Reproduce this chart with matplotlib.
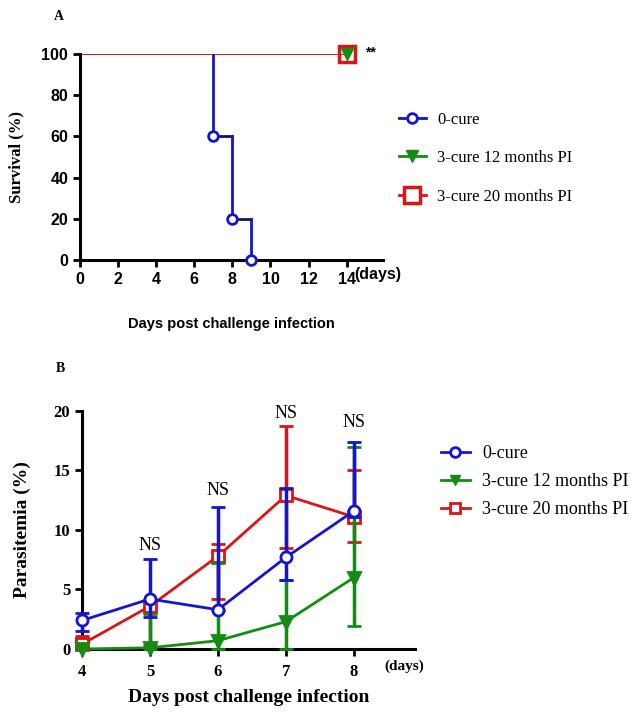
import matplotlib
matplotlib.use("Agg")
import matplotlib.pyplot as plt
from matplotlib.lines import Line2D

# ---- panel A: survival ----
surv_days = [0, 7, 8, 9]
surv_cure0 = [100, 60, 20, 0]
surv_end_day = 14
surv_cured = 100

# ---- panel B: parasitemia ----
days = [4, 5, 6, 7, 8]
cure0 = [2.4, 4.2, 3.3, 7.7, 11.6]
cure0_lo = [0.9, 1.5, 0.0, 1.9, 0.5]
cure0_hi = [0.6, 3.4, 8.6, 5.8, 5.8]
cure12 = [0.0, 0.1, 0.7, 2.3, 6.0]
cure12_lo = [0.0, 0.1, 0.7, 2.3, 4.1]
cure12_hi = [0.0, 2.8, 6.5, 3.5, 11.0]
cure20 = [0.4, 3.6, 7.8, 12.9, 11.1]
cure20_lo = [0.4, 3.3, 3.6, 4.4, 2.1]
cure20_hi = [0.7, 0.5, 1.0, 5.8, 3.9]
ns_x = [5, 6, 7, 8]
ns_y = [8.7, 13.3, 19.8, 19.0]

labels = ["0-cure", "3-cure 12 months PI", "3-cure 20 months PI"]
BLUE = "#1414d2"
NAVY = "#14145a"
GREEN = "#148c14"
RED = "#dc1414"
DARKRED = "#b41414"

SANS = "Liberation Sans"
SERIF = "Liberation Serif"

fig = plt.figure(figsize=(6.43, 7.15), dpi=100)

# ================= A =================
axA = fig.add_axes([0.1244, 0.6364, 0.471, 0.2881])
axA.plot([0, surv_end_day], [surv_cured, surv_cured], color=DARKRED, lw=1.3, zorder=2)
# Kaplan-Meier steps: verticals blue, horizontals dark
for i in range(1, len(surv_days)):
    axA.plot([surv_days[i], surv_days[i]], [surv_cure0[i - 1], surv_cure0[i]],
             color=BLUE, lw=2, zorder=3)
    if i < len(surv_days) - 1:
        axA.plot([surv_days[i], surv_days[i + 1]], [surv_cure0[i], surv_cure0[i]],
                 color=NAVY, lw=2, zorder=3)
axA.plot(surv_days[1:], surv_cure0[1:], ls="none", marker="o", ms=7, mfc="white",
         mec=BLUE, mew=2, zorder=4, clip_on=False)
axA.plot([surv_end_day], [surv_cured], marker="s", ms=12, mfc="none", mec=RED,
         mew=2.5, ls="none", zorder=4, clip_on=False)
axA.plot([surv_end_day], [surv_cured], marker="v", ms=8, color=GREEN, ls="none",
         zorder=5, clip_on=False)
axA.text(14.95, 100.5, "**", fontsize=10, fontweight="bold", family=SANS,
         va="center", ha="left")

axA.set_xlim(0, 15.9)
axA.set_ylim(0, 100)
axA.set_xticks(range(0, 15, 2))
axA.set_yticks(range(0, 101, 20))
for s in ["top", "right"]:
    axA.spines[s].set_visible(False)
for s in ["left", "bottom"]:
    axA.spines[s].set_linewidth(2.2)
axA.tick_params(width=2, length=5, labelsize=11.5)
for t in axA.get_xticklabels() + axA.get_yticklabels():
    t.set_fontfamily(SANS)
    t.set_fontweight("bold")
axA.text(14.4, -0.033, "(days)", transform=axA.get_xaxis_transform(),
         fontsize=11.5, fontweight="bold", family=SANS, va="top", ha="left")
axA.set_ylabel("Survival (%)", fontsize=12, fontweight="bold", family=SERIF, labelpad=12)
axA.set_xlabel("Days post challenge infection", fontsize=10.5, fontweight="bold",
               family=SANS, labelpad=22)

hA = [Line2D([], [], color=BLUE, marker="o", ms=7, mfc="white", mec=BLUE, mew=2, lw=2),
      Line2D([], [], color=GREEN, marker="v", ms=8, lw=2),
      Line2D([], [], color=RED, marker="s", ms=11, mfc="white", mec=RED, mew=2.5, lw=2)]
fig.legend(hA, labels, loc="upper left", bbox_to_anchor=(0.597, 0.865), frameon=False,
           prop={"family": SERIF, "size": 12}, handlelength=1.6, labelspacing=1.35,
           handletextpad=0.7)
fig.text(0.083, 0.986, "A", fontsize=10, fontweight="bold", family=SERIF, va="top")

# ================= B =================
axB = fig.add_axes([0.1275, 0.0923, 0.518, 0.3329])
series = [(cure20, cure20_lo, cure20_hi, RED, "s"),
          (cure12, cure12_lo, cure12_hi, GREEN, "v"),
          (cure0, cure0_lo, cure0_hi, BLUE, "o")]
for k, (y, lo, hi, c, m) in enumerate(series):
    axB.errorbar(days, y, yerr=[lo, hi], color=c, lw=2, marker=m, ms=8,
                 mfc="white" if m != "v" else c, mec=c, mew=2, elinewidth=2.5,
                 capsize=5, capthick=2.5, zorder=3 + k, clip_on=False)
for x, y in zip(ns_x, ns_y):
    axB.text(x, y, "NS", fontsize=13, family=SERIF, ha="center", va="center")

axB.set_xlim(4, 8.9)
axB.set_ylim(0, 20)
axB.set_xticks(days)
axB.set_yticks(range(0, 21, 5))
for s in ["top", "right"]:
    axB.spines[s].set_visible(False)
for s in ["left", "bottom"]:
    axB.spines[s].set_linewidth(2.2)
axB.tick_params(width=2, length=5, labelsize=12)
axB.tick_params(axis="x", pad=6)
for t in axB.get_xticklabels() + axB.get_yticklabels():
    t.set_fontfamily(SERIF)
    t.set_fontweight("bold")
axB.text(8.45, -0.045, "(days)", transform=axB.get_xaxis_transform(),
         fontsize=11, fontweight="bold", family=SERIF, va="top", ha="left")
axB.set_ylabel("Parasitemia (%)", fontsize=14, fontweight="bold", family=SERIF, labelpad=16)
axB.set_xlabel("Days post challenge infection", fontsize=14, fontweight="bold",
               family=SERIF, labelpad=6)

hB = [Line2D([], [], color=BLUE, marker="o", ms=7, mfc="white", mec=BLUE, mew=2, lw=2),
      Line2D([], [], color=GREEN, marker="v", ms=7, lw=2),
      Line2D([], [], color=RED, marker="s", ms=7, mfc="white", mec=RED, mew=2, lw=2)]
fig.legend(hB, labels, loc="upper left", bbox_to_anchor=(0.66, 0.4), frameon=False,
           prop={"family": SERIF, "size": 13}, handlelength=1.6, labelspacing=0.6,
           handletextpad=0.7)
fig.text(0.087, 0.494, "B", fontsize=10, fontweight="bold", family=SERIF, va="top")

fig.savefig("out.png", dpi=100)
